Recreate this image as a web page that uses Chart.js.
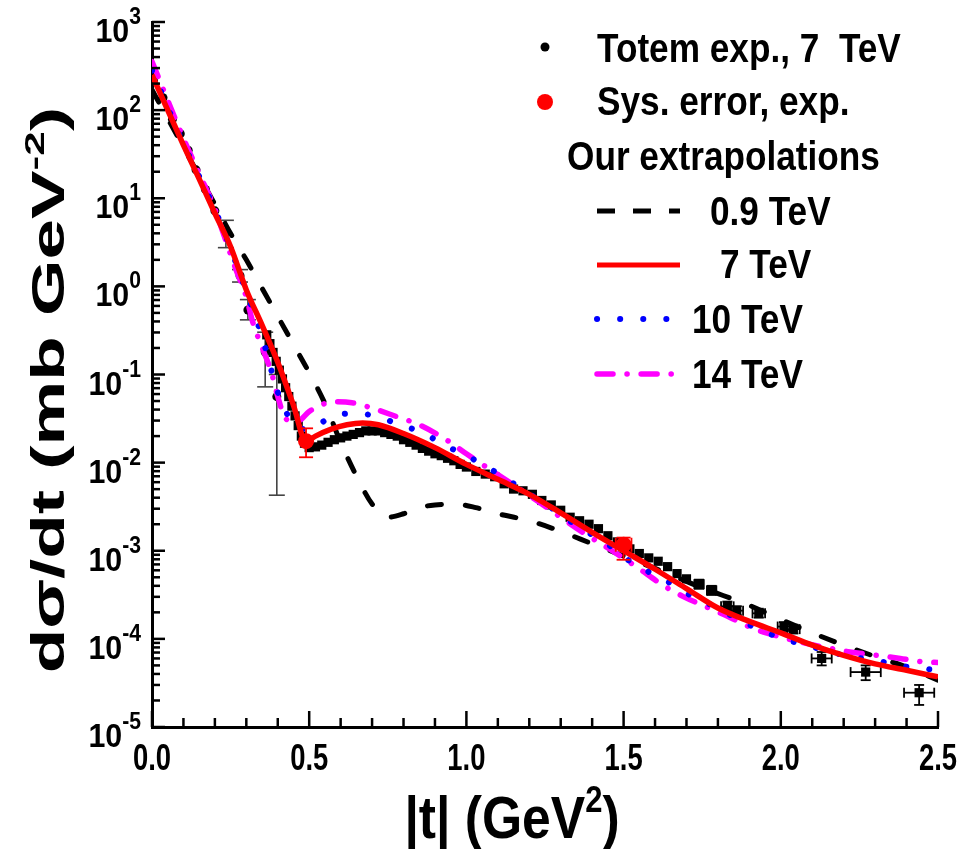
<!DOCTYPE html>
<html>
<head>
<meta charset="utf-8">
<script src="https://cdn.jsdelivr.net/npm/chart.js@4.4.1/dist/chart.umd.min.js"></script>
<style>
  html, body { margin: 0; padding: 0; background: #fff; }
  #wrap { width: 973px; height: 849px; }
</style>
</head>
<body>
<div id="wrap"><canvas id="chart" width="973" height="849"></canvas></div>
<script>
// ── Data ─────────────────────────────────────────────────────────────────────

// Model curves, |t| in GeV^2, dσ/dt in mb GeV^-2
const T_09    = [0, 0.1, 0.2, 0.25, 0.3, 0.35, 0.4, 0.45, 0.5, 0.55, 0.6, 0.65, 0.7, 0.75, 0.8, 0.85, 0.9, 0.96, 1.03, 1.1, 1.2, 1.3, 1.4, 1.5, 1.6, 1.75, 1.9, 2.0, 2.1, 2.2, 2.3, 2.4, 2.5];
const DSDT_09 = [170, 38, 8.5, 3.98, 2.0, 0.955, 0.457, 0.219, 0.105, 0.0468, 0.017, 0.00708, 0.00339, 0.0024, 0.00263, 0.00309, 0.00331, 0.00339, 0.00309, 0.00263, 0.00219, 0.00166, 0.0012, 8.7e-4, 6.3e-4, 3.8e-4, 2.4e-4, 1.66e-4, 1.17e-4, 8.5e-5, 6.3e-5, 4.8e-5, 3.4e-5];

const T_7     = [0, 0.05, 0.1, 0.15, 0.2, 0.25, 0.3, 0.35, 0.4, 0.45, 0.49, 0.52, 0.57, 0.62, 0.67, 0.72, 0.8, 0.9, 1.0, 1.1, 1.2, 1.3, 1.4, 1.5, 1.6, 1.7, 1.8, 1.9, 2.0, 2.1, 2.2, 2.3, 2.4, 2.5];
const DSDT_7  = [251, 100, 40, 16.6, 6.76, 2.82, 0.912, 0.363, 0.138, 0.0447, 0.0174, 0.020, 0.024, 0.0269, 0.0282, 0.0269, 0.0214, 0.0148, 0.00955, 0.00646, 0.00437, 0.00269, 0.00162, 0.0010, 6.17e-4, 3.72e-4, 2.24e-4, 1.58e-4, 1.17e-4, 8.5e-5, 6.5e-5, 5.2e-5, 4.4e-5, 3.7e-5];

const T_10    = [0, 0.1, 0.2, 0.25, 0.3, 0.35, 0.4, 0.43, 0.47, 0.5, 0.57, 0.64, 0.72, 0.78, 0.86, 0.93, 1.0, 1.08, 1.22, 1.29, 1.36, 1.44, 1.5, 1.58, 1.65, 1.72, 1.8, 1.87, 2.0, 2.08, 2.16, 2.23, 2.3, 2.37, 2.44, 2.5];
const DSDT_10 = [282, 41.7, 7.41, 2.69, 0.871, 0.269, 0.0631, 0.0355, 0.024, 0.024, 0.0331, 0.0363, 0.0331, 0.0275, 0.0219, 0.0158, 0.0120, 0.00832, 0.00398, 0.00275, 0.00182, 0.00126, 8.5e-4, 5.75e-4, 4.27e-4, 3.02e-4, 2.24e-4, 1.62e-4, 1.02e-4, 8.5e-5, 7.1e-5, 6.2e-5, 5.75e-5, 5.0e-5, 4.68e-5, 4.37e-5];

const T_14    = [0, 0.1, 0.15, 0.2, 0.226, 0.27, 0.3, 0.32, 0.353, 0.38, 0.4, 0.417, 0.44, 0.465, 0.5, 0.535, 0.58, 0.636, 0.69, 0.78, 0.85, 0.94, 1.0, 1.14, 1.22, 1.3, 1.37, 1.46, 1.54, 1.625, 1.69, 1.765, 1.84, 1.91, 2.0, 2.08, 2.15, 2.22, 2.29, 2.38, 2.45, 2.5];
const DSDT_14 = [355, 47.9, 19, 7.59, 4.07, 1.45, 0.759, 0.398, 0.191, 0.105, 0.0562, 0.0363, 0.0288, 0.0295, 0.038, 0.0447, 0.049, 0.0479, 0.0427, 0.0331, 0.0269, 0.0178, 0.0126, 0.00589, 0.0038, 0.0024, 0.00162, 0.00102, 6.6e-4, 4.07e-4, 3.02e-4, 2.29e-4, 1.74e-4, 1.32e-4, 1.05e-4, 8.9e-5, 7.9e-5, 7.1e-5, 6.6e-5, 6.0e-5, 5.5e-5, 5.4e-5];

// TOTEM 7 TeV, low |t| points (circles)
const LOWT_T    = [0.005, 0.035, 0.065, 0.09, 0.115, 0.14, 0.17, 0.20, 0.235, 0.28, 0.305, 0.36, 0.397];
const LOWT_DSDT = [214, 138, 79, 54, 35, 21, 12.6, 7.2, 4.0, 1.32, 0.54, 0.18, 0.056];
const LOWT_LO   = [null, null, null, null, null, null, null, null, 2.75, 1.12, 0.417, 0.0724, 0.00427];
const LOWT_HI   = [null, null, null, null, null, null, null, null, 5.62, 1.55, 0.708, 0.302, 0.1];

// TOTEM 7 TeV, squares
const TOTEM_T    = [0.365, 0.375, 0.385, 0.395, 0.405, 0.415, 0.425, 0.435, 0.445, 0.455, 0.465, 0.475, 0.485,
                    0.50, 0.52, 0.54, 0.56, 0.58, 0.60, 0.62, 0.64, 0.66, 0.68, 0.70, 0.72, 0.74, 0.76, 0.78, 0.80,
                    0.82, 0.84, 0.86, 0.88, 0.90, 0.92, 0.94, 0.96, 0.98, 1.00, 1.03, 1.06, 1.09, 1.12, 1.15, 1.18,
                    1.21, 1.24, 1.27, 1.30, 1.33, 1.36, 1.39, 1.42, 1.45, 1.48, 1.52, 1.55, 1.58, 1.61, 1.64, 1.67,
                    1.70, 1.74, 1.78, 1.83, 1.86, 1.93, 2.01, 2.04, 2.13, 2.27, 2.44];
const TOTEM_DSDT = [0.282, 0.224, 0.178, 0.141, 0.112, 0.0891, 0.0708, 0.0562, 0.0437, 0.0339, 0.0263, 0.020, 0.0166,
                    0.0148, 0.0151, 0.0158, 0.0170, 0.0182, 0.0191, 0.0200, 0.0209, 0.0219, 0.0229, 0.0229, 0.0229, 0.0219, 0.0209, 0.0200, 0.0182,
                    0.0170, 0.0158, 0.0145, 0.0135, 0.0126, 0.0120, 0.0112, 0.0105, 0.00955, 0.00891, 0.00794, 0.00741, 0.00692, 0.00575, 0.00501, 0.00479,
                    0.00437, 0.00372, 0.00331, 0.00288, 0.0024, 0.00219, 0.0020, 0.00178, 0.00148, 0.00126, 0.00105, 9.3e-4, 8.3e-4, 7.6e-4, 6.6e-4, 5.5e-4,
                    4.8e-4, 4.17e-4, 3.55e-4, 2.34e-4, 2.09e-4, 1.95e-4, 1.38e-4, 1.29e-4, 6.0e-5, 4.2e-5, 2.45e-5];
// error bars on the last few squares
const TOTEM_ERR_T    = [1.74, 1.78, 1.83, 1.86, 1.93, 2.01, 2.04, 2.13, 2.27, 2.44];
const TOTEM_ERR_TERR = [0.015, 0.015, 0.02, 0.02, 0.02, 0.02, 0.02, 0.032, 0.048, 0.048];
const TOTEM_ERR_LO   = [3.7e-4, 3.15e-4, 2.07e-4, 1.86e-4, 1.74e-4, 1.23e-4, 1.15e-4, 5.0e-5, 3.4e-5, 1.78e-5];
const TOTEM_ERR_HI   = [4.7e-4, 4.0e-4, 2.65e-4, 2.35e-4, 2.2e-4, 1.55e-4, 1.45e-4, 7.1e-5, 5.0e-5, 3.0e-5];

// systematic error points (red)
const SYS_T    = [0.49, 1.5];
const SYS_DSDT = [0.0175, 0.00117];
const SYS_LO   = [0.0115, 7.9e-4];
const SYS_HI   = [0.0245, 0.00141];
const SYS_TERR = [0, 0.025];

// axis tick labels
const X_TICKS = [0.0, 0.5, 1.0, 1.5, 2.0, 2.5];
const Y_EXPS  = [-5, -4, -3, -2, -1, 0, 1, 2, 3];

// ── Styling ──────────────────────────────────────────────────────────────────

const FONT = '"Liberation Sans", Arial, Helvetica, sans-serif';
const RED = "#ff0000", BLUE = "#0000ff", MAGENTA = "#ff00ff";

const pts = (xs, ys) => xs.map((x, i) => ({ x, y: ys[i] }));

// bold text, squeezed horizontally by sx
function say(ctx, str, x, y, size, sx = 1, align = "left") {
  ctx.font = `bold ${size}px ${FONT}`;
  const w = ctx.measureText(str).width * sx;
  const x0 = align === "center" ? x - w / 2 : align === "right" ? x - w : x;
  ctx.save();
  ctx.translate(x0, y);
  ctx.scale(sx, 1);
  ctx.textAlign = "left";
  ctx.textBaseline = "alphabetic";
  ctx.fillText(str, 0, 0);
  ctx.restore();
  return w;
}

// text made of pieces [{s, size, dy}] on one baseline
function pieces(ctx, parts, sx) {
  let w = 0;
  parts.forEach(p => { ctx.font = `bold ${p.size}px ${FONT}`; w += ctx.measureText(p.s).width * sx; });
  return w;
}
function sayParts(ctx, parts, x, y, sx, align) {
  const w = pieces(ctx, parts, sx);
  let cx = align === "center" ? x - w / 2 : align === "right" ? x - w : x;
  parts.forEach(p => { cx += say(ctx, p.s, cx, y + (p.dy || 0), p.size, sx); });
}

function line(ctx, x1, y1, x2, y2) {
  ctx.beginPath(); ctx.moveTo(x1, y1); ctx.lineTo(x2, y2); ctx.stroke();
}

function errorBars(chart, ts, vs, lo, hi, terr, color, width, cap) {
  const { ctx, scales: { x, y } } = chart;
  ctx.save();
  ctx.strokeStyle = color;
  ctx.lineWidth = width;
  ts.forEach((t, i) => {
    const px = x.getPixelForValue(t);
    if (lo[i] != null) {
      const y1 = y.getPixelForValue(lo[i]), y2 = y.getPixelForValue(hi[i]);
      line(ctx, px, y1, px, y2);
      line(ctx, px - cap, y1, px + cap, y1);
      line(ctx, px - cap, y2, px + cap, y2);
    }
    if (terr && terr[i]) {
      const py = y.getPixelForValue(vs[i]);
      const x1 = x.getPixelForValue(t - terr[i]), x2 = x.getPixelForValue(t + terr[i]);
      line(ctx, x1, py, x2, py);
      line(ctx, x1, py - cap, x1, py + cap);
      line(ctx, x2, py - cap, x2, py + cap);
    }
  });
  ctx.restore();
}

// ── Decorations: ticks, labels, titles, legend ──────────────────────────────

const decor = {
  id: "decor",
  beforeDatasetsDraw(chart) {
    errorBars(chart, LOWT_T, LOWT_DSDT, LOWT_LO, LOWT_HI, null, "#444", 1.6, 8);
    errorBars(chart, TOTEM_ERR_T, TOTEM_ERR_T.map(t => TOTEM_DSDT[TOTEM_T.indexOf(t)]),
              TOTEM_ERR_LO, TOTEM_ERR_HI, TOTEM_ERR_TERR, "#000", 1.8, 5);
  },
  afterDatasetsDraw(chart) {
    errorBars(chart, SYS_T, SYS_DSDT, SYS_LO, SYS_HI, SYS_TERR, RED, 1.8, 7);
  },
  afterDraw(chart) {
    const { ctx, chartArea: a, scales: { x, y } } = chart;
    ctx.save();
    ctx.fillStyle = "#000";
    ctx.strokeStyle = "#000";
    ctx.lineWidth = 2.5;

    // inward ticks
    for (let i = 0; i <= 25; i++) {
      const px = x.getPixelForValue(i / 10);
      line(ctx, px, a.bottom, px, a.bottom - (i % 5 === 0 ? 16 : 9));
    }
    Y_EXPS.forEach(e => {
      for (let m = 1; m <= 9; m++) {
        if (e === 3 && m > 1) break;
        const py = y.getPixelForValue(m * Math.pow(10, e));
        line(ctx, a.left, py, a.left + (m === 1 ? 13 : 8), py);
      }
    });

    // tick labels
    X_TICKS.forEach(v => say(ctx, v.toFixed(1), x.getPixelForValue(v), 770, 37, 0.74, "center"));
    Y_EXPS.forEach(e => {
      const py = y.getPixelForValue(Math.pow(10, e));
      sayParts(ctx, [{ s: "10", size: 33 }, { s: String(e), size: 23, dy: -18 }], 141, py + 20, 0.92, "right");
    });

    // axis titles
    sayParts(ctx, [{ s: "|t| (GeV", size: 60 }, { s: "2", size: 36, dy: -26 }, { s: ")", size: 60 }], 512, 838, 0.86, "center");

    ctx.save();
    ctx.translate(64, 390);
    ctx.rotate(-Math.PI / 2);
    ctx.scale(1.3, 0.82);
    sayParts(ctx, [{ s: "dσ/dt (mb GeV", size: 56 }, { s: "-2", size: 34, dy: -24 }, { s: ")", size: 56 }], 0, 0, 1, "center");
    ctx.restore();

    // legend
    const LX = 597, SX = 0.88, FS = 40;
    ctx.beginPath(); ctx.arc(545, 47, 4.5, 0, 2 * Math.PI); ctx.fill();
    say(ctx, "Totem exp., 7  TeV", LX, 62, FS, SX);
    ctx.fillStyle = RED;
    ctx.beginPath(); ctx.arc(545, 102, 8, 0, 2 * Math.PI); ctx.fill();
    ctx.fillStyle = "#000";
    say(ctx, "Sys. error, exp.", LX, 115, FS, SX);
    say(ctx, "Our extrapolations", 567, 170, FS, SX);

    const sample = (yy, color, w, dash, cap) => {
      ctx.save();
      ctx.strokeStyle = color; ctx.lineWidth = w; ctx.setLineDash(dash); ctx.lineCap = cap;
      line(ctx, 597, yy, 680, yy);
      ctx.restore();
    };
    sample(211, "#000", 5, [18, 18], "butt");
    say(ctx, "0.9 TeV", 710, 225, FS, SX);
    sample(265, RED, 5, [], "butt");
    say(ctx, "7 TeV", 720, 278, FS, SX);
    sample(319, BLUE, 6, [0.1, 23], "round");
    say(ctx, "10 TeV", 692, 333, FS, SX);
    sample(374, MAGENTA, 5.5, [16, 14, 0.1, 14], "round");
    say(ctx, "14 TeV", 692, 388, FS, SX);

    ctx.restore();
  }
};

// ── Chart ────────────────────────────────────────────────────────────────────

const curve = (label, xs, ys, color, width, dash, cap, order) => ({
  label, data: pts(xs, ys), borderColor: color, borderWidth: width, borderDash: dash,
  borderCapStyle: cap, pointRadius: 0, fill: false, cubicInterpolationMode: "monotone", order,
});

new Chart(document.getElementById("chart"), {
  type: "line",
  data: {
    datasets: [
      { label: "Sys. error, exp.", data: pts(SYS_T, SYS_DSDT), showLine: false, pointStyle: "circle",
        pointRadius: 8, pointBackgroundColor: RED, pointBorderWidth: 0, order: 0 },
      curve("7 TeV", T_7, DSDT_7, RED, 5.5, [], "butt", 1),
      curve("10 TeV", T_10, DSDT_10, BLUE, 6, [0.1, 23], "round", 2),
      curve("14 TeV", T_14, DSDT_14, MAGENTA, 5.5, [16, 14, 0.1, 14], "round", 3),
      curve("0.9 TeV", T_09, DSDT_09, "#000", 5, [14, 24], "round", 4),
      { label: "Totem exp., 7 TeV", data: pts(TOTEM_T, TOTEM_DSDT), showLine: false, pointStyle: "rect",
        pointRadius: 6.5, pointBackgroundColor: "#000", pointBorderWidth: 0, order: 6 },
      { label: "Totem exp., 7 TeV (low |t|)", data: pts(LOWT_T, LOWT_DSDT), showLine: false, pointStyle: "circle",
        pointRadius: 4.5, pointBackgroundColor: "#000", pointBorderWidth: 0, order: 6 },
    ],
  },
  options: {
    responsive: false,
    animation: false,
    devicePixelRatio: 1,
    layout: { padding: { top: 22, right: 35, left: 0, bottom: 0 } },
    plugins: { legend: { display: false }, tooltip: { enabled: false } },
    scales: {
      x: {
        type: "linear", min: 0, max: 2.5,
        grid: { display: false },
        border: { display: true, color: "#000", width: 3 },
        ticks: { display: false },
        afterFit: s => { s.height = 122; },
      },
      y: {
        type: "logarithmic", min: 1e-5, max: 1e3,
        grid: { display: false },
        border: { display: true, color: "#000", width: 3 },
        ticks: { display: false },
        afterFit: s => { s.width = 152; },
      },
    },
  },
  plugins: [decor],
});
</script>
</body>
</html>
